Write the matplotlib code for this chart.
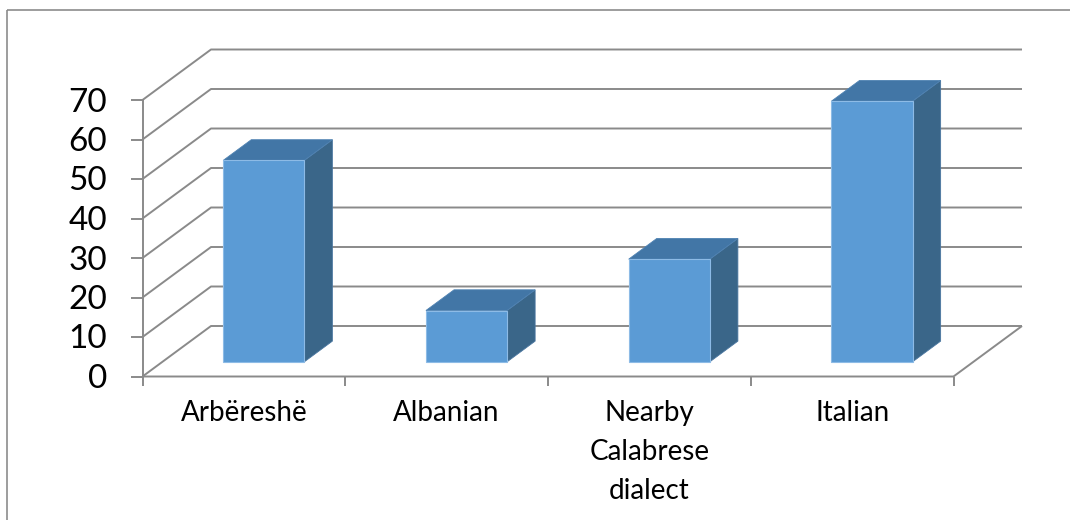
import matplotlib.pyplot as plt
from matplotlib.patches import Polygon, Rectangle

plt.rcParams['font.family'] = ['Lato', 'DejaVu Sans']

# ---- data ----
categories = ["Arbëreshë", "Albanian", "Nearby\nCalabrese\ndialect", "Italian"]
values = [51, 13, 26, 66]
yticks = [0, 10, 20, 30, 40, 50, 60, 70]

# ---- oblique "3D" projection (pixel space) ----
X0, Y0 = 142.5, 376.5          # front-left corner of the floor
CAT_W = 202.75                 # width of one category slot
UNIT = 3.95                    # pixels per value unit
DX, DY = 68.5, -50.5           # offset for full depth
N = len(categories)


def proj(c, v, d):
    return (X0 + c * CAT_W + d * DX, Y0 - v * UNIT + d * DY)


fig = plt.figure(figsize=(10.7, 5.2), dpi=100)
ax = fig.add_axes([0, 0, 1, 1])
ax.set_xlim(0, 1070)
ax.set_ylim(520, 0)
ax.axis("off")

# outer frame
ax.add_patch(Rectangle((7, 10), 1200, 700, fill=False, edgecolor="#8c8c8c", lw=1.2))

grid_kw = dict(color="#8a8a8a", lw=1.4, solid_capstyle="butt", zorder=1)
vmax = yticks[-1]

# back wall + left wall gridlines
for v in yticks:
    fx, fy = proj(0, v, 0)
    bx, by = proj(0, v, 1)
    ex, ey = proj(N, v, 1)
    ax.plot([fx, bx, ex], [fy, by, ey], **grid_kw)
    # tick mark on the value axis
    ax.plot([fx - 12, fx], [fy, fy], **grid_kw)
    ax.text(107, fy + 2.5, str(v), ha="right", va="center", fontsize=24, color="black")

# value axis line
ax.plot(*zip(proj(0, 0, 0), proj(0, vmax, 0)), **grid_kw)

# floor outline
corners = [proj(0, 0, 0), proj(N, 0, 0), proj(N, 0, 1)]
ax.plot([p[0] for p in corners], [p[1] for p in corners], **grid_kw)

# category tick marks
for i in range(N + 1):
    tx, ty = proj(i, 0, 0)
    ax.plot([tx, tx], [ty, ty + 9], **grid_kw)

# bars
front_c = "#5b9bd5"
top_c = "#4276a6"
side_c = "#3a6689"
hw = 0.2
d0, d1 = 0.29, 0.70
for i, v in enumerate(values):
    c = i + 0.5
    front = [proj(c - hw, 0, d0), proj(c + hw, 0, d0), proj(c + hw, v, d0), proj(c - hw, v, d0)]
    top = [proj(c - hw, v, d0), proj(c + hw, v, d0), proj(c + hw, v, d1), proj(c - hw, v, d1)]
    side = [proj(c + hw, 0, d0), proj(c + hw, 0, d1), proj(c + hw, v, d1), proj(c + hw, v, d0)]
    ax.add_patch(Polygon(side, closed=True, facecolor=side_c, edgecolor="#4a76a0", lw=0.6, zorder=3))
    ax.add_patch(Polygon(top, closed=True, facecolor=top_c, edgecolor="#4f82b2", lw=0.6, zorder=3))
    ax.add_patch(Polygon(front, closed=True, facecolor=front_c, edgecolor="#8dbbe6", lw=0.8, zorder=4))

    lx, ly = proj(c, 0, 0)
    ax.text(lx, 400, categories[i], ha="center", va="top", fontsize=20,
            linespacing=1.62, color="black")

fig.savefig("out.png", dpi=100)
